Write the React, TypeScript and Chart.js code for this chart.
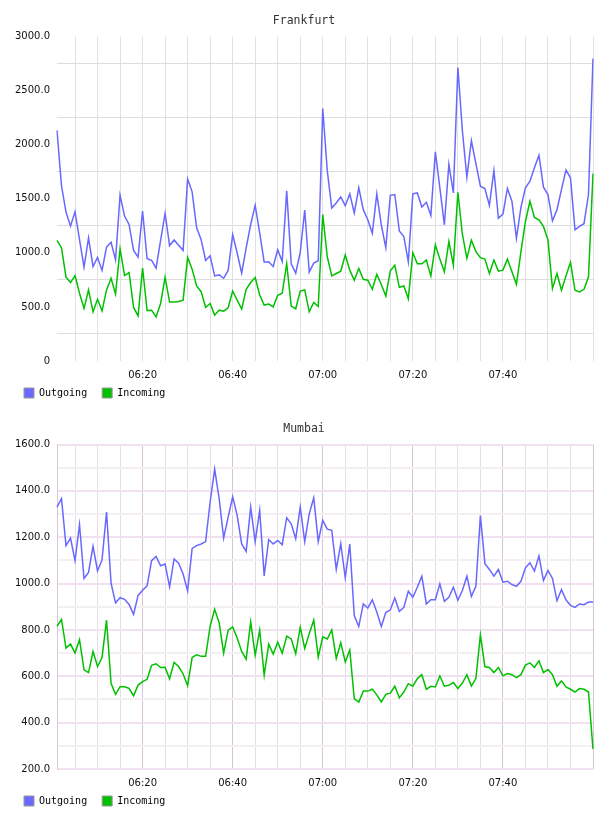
import { useEffect, useRef } from 'react';
import { Chart, registerables } from 'chart.js';

Chart.register(...registerables);

// One sample per minute, first sample at 06:01, last at 08:00.
const FIRST_MINUTE = 6 * 60 + 1;

const frankfurtOutgoing = [
  2132, 1619, 1377, 1247, 1380, 1122, 868, 1138, 874, 958,
  837, 1054, 1098, 936, 1532, 1340, 1262, 1023, 961, 1387,
  945, 930, 859, 1116, 1365, 1067, 1119, 1070, 1023, 1682,
  1564, 1231, 1122, 930, 973, 787, 796, 765, 837, 1169,
  998, 812, 1045, 1262, 1439, 1185, 914, 917, 874, 1029,
  920, 1573, 899, 812, 1004, 1396, 821, 905, 927, 2334,
  1760, 1414, 1461, 1517, 1436, 1545, 1368, 1601, 1399, 1306,
  1181, 1545, 1259, 1048, 1532, 1539, 1203, 1150, 917, 1545,
  1554, 1424, 1467, 1346, 1933, 1601, 1259, 1818, 1554, 2713,
  2129, 1700, 2036, 1824, 1616, 1595, 1439, 1762, 1321, 1358,
  1595, 1477, 1135, 1421, 1601, 1663, 1787, 1902, 1607, 1539,
  1296, 1399, 1585, 1765, 1694, 1213, 1244, 1269, 1539, 2797,
];

const frankfurtIncoming = [
  1116, 1045, 775, 725, 790, 626, 486, 657, 455, 570,
  464, 657, 765, 619, 1036, 790, 818, 495, 417, 859,
  467, 470, 408, 532, 775, 545, 545, 551, 563, 958,
  849, 694, 641, 495, 532, 424, 470, 461, 492, 647,
  563, 480, 663, 725, 772, 610, 517, 526, 501, 607,
  626, 899, 507, 483, 647, 657, 455, 542, 504, 1354,
  964, 787, 809, 831, 980, 840, 747, 855, 756, 747,
  663, 800, 707, 601, 834, 886, 681, 694, 576, 1001,
  899, 899, 933, 787, 1073, 942, 824, 1104, 886, 1560,
  1172, 949, 1116, 1011, 955, 942, 809, 933, 831, 840,
  942, 824, 709, 1011, 1290, 1477, 1327, 1306, 1244, 1120,
  669, 809, 654, 787, 911, 654, 638, 663, 778, 1734,
];

const mumbaiOutgoing = [
  1330, 1367, 1164, 1196, 1099, 1254, 1022, 1048, 1161, 1055,
  1102, 1309, 1002, 917, 939, 932, 910, 867, 949, 971,
  990, 1099, 1117, 1077, 1084, 986, 1106, 1088, 1041, 968,
  1152, 1164, 1171, 1181, 1352, 1494, 1367, 1196, 1287, 1374,
  1294, 1171, 1139, 1330, 1181, 1316, 1033, 1190, 1171, 1186,
  1168, 1284, 1258, 1193, 1330, 1181, 1301, 1370, 1181, 1273,
  1235, 1230, 1061, 1172, 1025, 1170, 862, 815, 912, 894,
  930, 877, 815, 875, 887, 938, 880, 897, 967, 941,
  984, 1032, 912, 930, 930, 999, 923, 941, 984, 928,
  970, 1032, 945, 988, 1293, 1086, 1061, 1032, 1061, 1006,
  1010, 996, 988, 1010, 1068, 1090, 1054, 1119, 1013, 1057,
  1022, 926, 974, 930, 906, 897, 912, 909, 920, 920,
];

const mumbaiIncoming = [
  816, 845, 722, 739, 700, 758, 628, 616, 707, 642,
  681, 842, 570, 522, 555, 555, 548, 516, 562, 577,
  587, 647, 654, 638, 639, 589, 660, 642, 610, 560,
  681, 693, 686, 686, 816, 889, 831, 700, 799, 813,
  765, 707, 674, 835, 691, 799, 605, 739, 696, 747,
  700, 773, 761, 697, 812, 720, 784, 842, 683, 770,
  761, 800, 677, 745, 662, 713, 503, 489, 536, 536,
  544, 520, 489, 522, 527, 557, 507, 532, 568, 557,
  590, 607, 544, 557, 554, 602, 557, 561, 573, 547,
  571, 607, 558, 590, 778, 641, 638, 616, 638, 602,
  612, 607, 594, 607, 648, 658, 638, 667, 616, 629,
  607, 557, 580, 554, 544, 532, 547, 544, 532, 286,
];

const seriesNames = ['Outgoing', 'Incoming'];

// y-axis ranges
const frankfurtRange = [0, 3000];
const mumbaiRange = [200, 1600];

const OUT_COLOR = '#6868ff';
const IN_COLOR = '#00c000';
const MONO = '"DejaVu Sans Mono", monospace';
const SANS = '"DejaVu Sans", sans-serif';

const pad2 = (n: number) => String(n).padStart(2, '0');
const clock = (m: number) => `${pad2(Math.floor(m / 60))}:${pad2(m % 60)}`;
const timeLabels = frankfurtOutgoing.map((_, i) => clock(FIRST_MINUTE + i));

type GridScheme = {
  xGrid: (minute: number) => string;
  yGrid: (value: number) => string;
  yLineWidth: number;
  border: string | null;
};

const plainGrid: GridScheme = {
  xGrid: (m) => (m % 5 === 0 ? '#e1e1e1' : 'rgba(0,0,0,0)'),
  yGrid: (v) => (v % 500 === 250 ? '#dddddd' : 'rgba(0,0,0,0)'),
  yLineWidth: 1,
  border: null,
};

const mauveGrid: GridScheme = {
  xGrid: (m) => (m % 20 === 0 ? '#d9c3d9' : m % 5 === 0 ? '#e6dde6' : 'rgba(0,0,0,0)'),
  yGrid: (v) => (v % 200 === 0 ? '#f0e0f0' : '#f3eff3'),
  yLineWidth: 2,
  border: '#dcc6dc',
};

type PanelSpec = {
  title: string;
  outgoing: number[];
  incoming: number[];
  range: number[];
  step: number;
  labelEvery: number;
  zeroPlain: boolean;
  grid: GridScheme;
};

const panels: PanelSpec[] = [
  {
    title: 'Frankfurt',
    outgoing: frankfurtOutgoing,
    incoming: frankfurtIncoming,
    range: frankfurtRange,
    step: 250,
    labelEvery: 500,
    zeroPlain: true,
    grid: plainGrid,
  },
  {
    title: 'Mumbai',
    outgoing: mumbaiOutgoing,
    incoming: mumbaiIncoming,
    range: mumbaiRange,
    step: 100,
    labelEvery: 200,
    zeroPlain: false,
    grid: mauveGrid,
  },
];

// The time axis box is kept thin so the legend sits close under it;
// let its labels draw past the box instead of being clipped to it.
const unclippedTimeLabels = {
  id: 'unclippedTimeLabels',
  beforeDraw(chart: any) {
    const x = chart.scales.x;
    if (x) x._computeLabelArea = () => undefined;
  },
};

function buildConfig(p: PanelSpec): any {
  const [yMin, yMax] = p.range;
  const last = timeLabels.length - 1;
  return {
    type: 'line',
    data: {
      labels: timeLabels,
      datasets: [
        {
          label: seriesNames[0],
          data: p.outgoing,
          borderColor: OUT_COLOR,
          backgroundColor: OUT_COLOR,
          borderWidth: 1.5,
          pointRadius: 0,
          tension: 0,
          fill: false,
        },
        {
          label: seriesNames[1],
          data: p.incoming,
          borderColor: IN_COLOR,
          backgroundColor: IN_COLOR,
          borderWidth: 1.5,
          pointRadius: 0,
          tension: 0,
          fill: false,
        },
      ],
    },
    plugins: [unclippedTimeLabels],
    options: {
      animation: false,
      responsive: false,
      maintainAspectRatio: false,
      events: [],
      layout: { padding: { left: 9, right: 9, top: 0, bottom: 0 } },
      plugins: {
        title: {
          display: true,
          text: p.title,
          color: '#333',
          font: { family: MONO, size: 11.5, weight: 'normal', lineHeight: 1.2 },
          padding: { top: 14, bottom: 8.7 },
        },
        legend: {
          display: true,
          position: 'bottom',
          align: 'start',
          labels: {
            boxWidth: 10,
            boxHeight: 10,
            padding: 15,
            color: '#111',
            font: { family: MONO, size: 10 },
            generateLabels: (chart: any) =>
              chart.data.datasets.map((ds: any, i: number) => ({
                text: ds.label,
                fillStyle: ds.borderColor,
                strokeStyle: '#999',
                lineWidth: 1,
                hidden: false,
                datasetIndex: i,
              })),
          },
        },
        tooltip: { enabled: false },
      },
      scales: {
        x: {
          type: 'category',
          border: { display: false },
          grid: {
            drawTicks: false,
            lineWidth: 1,
            color: (ctx: any) => p.grid.xGrid(FIRST_MINUTE + ctx.index),
          },
          ticks: {
            autoSkip: false,
            maxRotation: 0,
            minRotation: 0,
            padding: 8,
            color: '#111',
            font: { family: SANS, size: 10 },
            callback: (_v: any, i: number) =>
              (FIRST_MINUTE + i) % 20 === 0 && i < last ? timeLabels[i] : '',
          },
          afterFit: (s: any) => {
            s.height = 12;
          },
        },
        y: {
          type: 'linear',
          min: yMin,
          max: yMax,
          afterBuildTicks: (s: any) => {
            const ticks = [];
            for (let v = yMin; v <= yMax; v += p.step) ticks.push({ value: v });
            s.ticks = ticks;
          },
          border: p.grid.border
            ? { display: true, color: p.grid.border, width: 1 }
            : { display: false },
          grid: {
            drawTicks: false,
            lineWidth: p.grid.yLineWidth,
            color: (ctx: any) => p.grid.yGrid(ctx.tick.value),
          },
          ticks: {
            padding: 7,
            color: '#111',
            font: { family: SANS, size: 10 },
            callback: (v: number) =>
              v % p.labelEvery === 0 ? (v === 0 && p.zeroPlain ? '0' : v.toFixed(1)) : '',
          },
          afterFit: (s: any) => {
            s.width = 48;
          },
        },
        yRight: {
          type: 'linear',
          position: 'right',
          display: true,
          border: { display: false },
          grid: { display: false, drawTicks: false },
          ticks: { display: false },
          afterFit: (s: any) => {
            s.width = 6;
          },
        },
      },
    },
  };
}

function TrafficPanel({ spec }: { spec: PanelSpec }) {
  const ref = useRef<HTMLCanvasElement | null>(null);
  useEffect(() => {
    if (!ref.current) return;
    const chart = new Chart(ref.current, buildConfig(spec));
    return () => chart.destroy();
  }, [spec]);
  return <canvas ref={ref} width={608} height={408} style={{ display: 'block' }} />;
}

export default function App() {
  return (
    <div
      style={{
        position: 'absolute',
        left: 0,
        top: 0,
        width: 608,
        height: 816,
        background: '#fff',
      }}
    >
      {panels.map((p) => (
        <TrafficPanel key={p.title} spec={p} />
      ))}
    </div>
  );
}
